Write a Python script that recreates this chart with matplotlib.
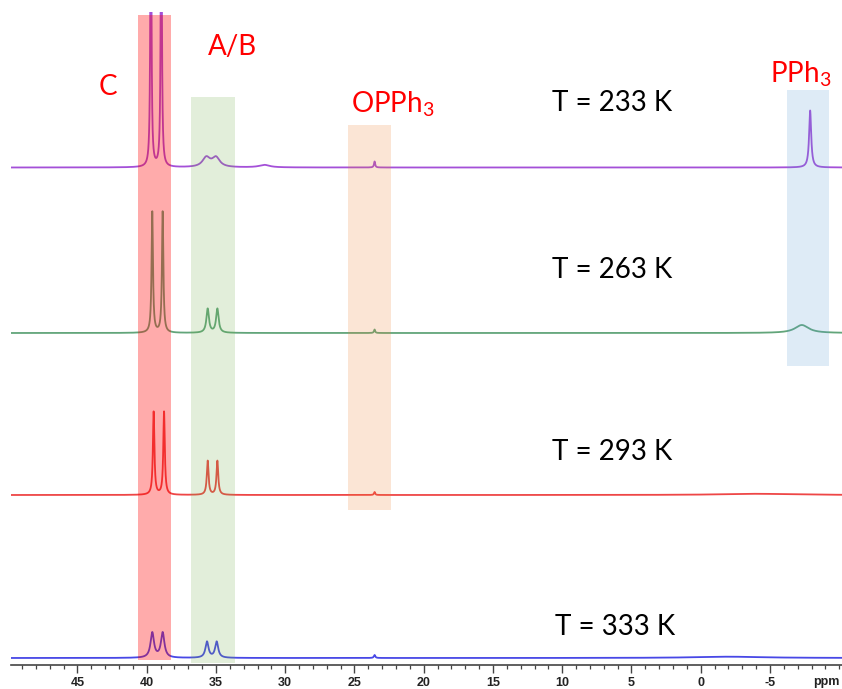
import numpy as np
import matplotlib
matplotlib.use("Agg")
import matplotlib.pyplot as plt
from matplotlib.patches import Rectangle

plt.rcParams["mathtext.fontset"] = "custom"
plt.rcParams["mathtext.rm"] = "Lato"
plt.rcParams["mathtext.it"] = "Lato:italic"
plt.rcParams["axes.unicode_minus"] = False

# ---- spectra: peak lists (ppm, height, half-width at half-height) ----
temps = ["T = 233 K", "T = 263 K", "T = 293 K", "T = 333 K"]
colors = ["#a450d8", "#62a57a", "#ee4646", "#4848e6"]

peaks_233 = [(39.70, 330, 0.045), (38.95, 330, 0.045),
             (35.70, 9.5, 0.33), (35.00, 9.5, 0.33),
             (31.50, 2.5, 0.45), (23.55, 6, 0.05), (-7.90, 57, 0.09)]
peaks_263 = [(39.60, 121, 0.06), (38.85, 121, 0.06),
             (35.60, 24, 0.11), (34.90, 24, 0.11),
             (23.55, 3.5, 0.05), (-7.30, 8, 0.6)]
peaks_293 = [(39.50, 83, 0.065), (38.75, 83, 0.065),
             (35.60, 34, 0.075), (34.90, 34, 0.075),
             (23.55, 3, 0.05), (-4.00, 1.2, 3.0)]
peaks_333 = [(39.60, 25, 0.15), (38.85, 25, 0.15),
             (35.65, 16, 0.135), (34.95, 16, 0.135),
             (23.55, 3, 0.06), (-2.00, 1.3, 3.0)]
peak_sets = [peaks_233, peaks_263, peaks_293, peaks_333]

# ---- shaded assignment bands (ppm range) and their labels ----
band_names = ["C", "A/B", "OPPh$_\\mathregular{3}$", "PPh$_\\mathregular{3}$"]
band_lo = [38.22, 33.60, 22.33, -9.28]
band_hi = [40.65, 36.80, 25.47, -6.20]

# ---- layout (vertical units are pixels above the ppm axis) ----
offsets = [497.5, 332, 170, 7]
band_y0 = [5, 2, 155, 299]
band_y1 = [650, 568, 540, 575]
band_face = ["#ff0000", "#70ad47", "#ed7d31", "#5b9bd5"]
band_alpha = [0.33, 0.2, 0.2, 0.2]
band_label_xy = [(42.8, 578), (33.8, 618), (22.2, 561), (-7.2, 591)]
temp_label_xy = [(6.4, 562), (6.4, 395), (6.4, 213), (6.2, 38)]

XMIN, XMAX = 49.8, -10.2
W, H = 842, 689

fig = plt.figure(figsize=(W / 100, H / 100), dpi=100)
ax = fig.add_axes([11 / W, 24 / H, 831 / W, 653 / H])
ax.set_xlim(XMIN, XMAX)
ax.set_ylim(0, 653)

ppm = np.linspace(XMIN, XMAX, 24000)


def spectrum(peaks):
    y = np.zeros_like(ppm)
    for x0, h, w in peaks:
        y += h * w ** 2 / ((ppm - x0) ** 2 + w ** 2)
    return y


for peaks, off, col in zip(peak_sets, offsets, colors):
    ax.plot(ppm, spectrum(peaks) + off, color=col, lw=1.3, zorder=2)

for lo, hi, y0, y1, fc, a in zip(band_lo, band_hi, band_y0, band_y1,
                                 band_face, band_alpha):
    ax.add_patch(Rectangle((lo, y0), hi - lo, y1 - y0, facecolor=fc,
                           alpha=a, edgecolor="none", zorder=3))

for name, (x, y) in zip(band_names, band_label_xy):
    ax.text(x, y, name, color="#ff0000", fontsize=20, family="Lato",
            ha="center", va="center", zorder=4)

for t, (x, y) in zip(temps, temp_label_xy):
    ax.text(x, y, t, color="black", fontsize=20, family="Lato",
            ha="center", va="center", zorder=4)

# ---- ppm axis ----
for side in ["left", "right", "top"]:
    ax.spines[side].set_visible(False)
ax.spines["bottom"].set_color("#444444")
ax.spines["bottom"].set_linewidth(1.2)
ax.set_yticks([])
ax.set_xticks(np.arange(45, -6, -5))
ax.set_xticks(np.arange(49, -11, -1), minor=True)
ax.tick_params(axis="x", which="major", length=6, width=1.0,
               color="#444444", pad=3)
ax.tick_params(axis="x", which="minor", length=3, width=0.9,
               color="#444444")
for lab in ax.get_xticklabels():
    lab.set_fontfamily("Liberation Sans")
    lab.set_fontweight("bold")
    lab.set_fontsize(9)
    lab.set_color("#222222")
ax.text(-9.1, -17, "ppm", fontfamily="Liberation Sans", fontweight="bold",
        fontsize=9, color="#222222", ha="center", va="center",
        clip_on=False)

fig.savefig("out.png", dpi=100)
